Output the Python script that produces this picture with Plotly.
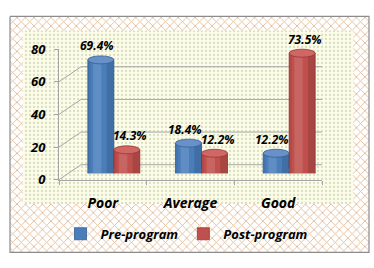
import plotly.graph_objects as go

# ---------------- data ----------------
categories = ["Poor", "Average", "Good"]
series_names = ["Pre-program", "Post-program"]
pre_values = [69.4, 18.4, 12.2]
post_values = [14.3, 12.2, 73.5]
y_ticks = [0, 20, 40, 60, 80]

# ---------------- style / geometry ----------------
W, H = 374, 268
FONT = "Open Sans"
BLUE, BLUE_TOP, BLUE_EDGE = "#4a7ebb", "#6891c9", "#335f96"
RED, RED_TOP, RED_EDGE = "#c0504d", "#cf6764", "#963633"
GRID = "#a6a6a6"

front_x = (59, 322)      # px, front plane (category axis)
front_y0, front_y80 = 183, 43
depth_dx, depth_dy = 22, 15   # back wall offset (px right, px up)
mid_dx, mid_dy = 11, 7        # bars at mid depth
front_w = front_x[1] - front_x[0]
ell = 4                       # half height of cylinder ellipses (px)

def px_dom_x(a, b):
    return [a / W, b / W]

def px_dom_y(bottom, top):
    return [1 - bottom / H, 1 - top / H]

fig = go.Figure()

# ----- background (pixel subplot xy) -----
box = (10, 8, 369, 261)
inner = (23, 23, 353, 209)
fig.add_trace(go.Scatter(
    x=[box[0], box[2], box[2], box[0], box[0]],
    y=[box[1], box[1], box[3], box[3], box[1]],
    mode="lines", fill="toself", fillcolor="white",
    fillpattern=dict(shape="x", fgcolor="#c47a35", bgcolor="#ffffff", size=6, solidity=0.28),
    line=dict(color="#8c8c8c", width=1.2), showlegend=False, hoverinfo="skip",
    xaxis="x", yaxis="y"))
fig.add_trace(go.Scatter(
    x=[inner[0], inner[2], inner[2], inner[0], inner[0]],
    y=[inner[1], inner[1], inner[3], inner[3], inner[1]],
    mode="lines", fill="toself", fillcolor="#fcfce9",
    fillpattern=dict(shape=".", fgcolor="#b3c495", bgcolor="#fcfce9", size=4, solidity=0.25),
    line=dict(width=0), showlegend=False, hoverinfo="skip",
    xaxis="x", yaxis="y"))

# ----- bars (mid-depth subplot x4y4) -----
n = len(categories)
bargap = 0.407
bw = (1 - bargap) / 2
xs = list(range(n))
fig.add_trace(go.Bar(x=xs, y=pre_values, name=series_names[0], marker=dict(color=BLUE, line=dict(color=BLUE_EDGE, width=0.8)),
                     xaxis="x4", yaxis="y4", width=bw, offset=-bw))
fig.add_trace(go.Bar(x=xs, y=post_values, name=series_names[1], marker=dict(color=RED, line=dict(color=RED_EDGE, width=0.8)),
                     xaxis="x4", yaxis="y4", width=bw, offset=0))

shapes = []
annotations = []
for vals, off, body, top, edge, xsh in [
        (pre_values, -bw / 2, BLUE, BLUE_TOP, BLUE_EDGE, -4),
        (post_values, bw / 2, RED, RED_TOP, RED_EDGE, 3)]:
    for i, v in enumerate(vals):
        c = i + off
        # rounded bottom
        shapes.append(dict(type="circle", xref="x4", yref="y4", x0=c - bw / 2, x1=c + bw / 2,
                           ysizemode="pixel", yanchor=0, y0=-ell, y1=ell,
                           fillcolor=body, line=dict(color=edge, width=0.8), layer="above"))
        shapes.append(dict(type="rect", xref="x4", yref="y4", x0=c - bw / 2 + 0.004, x1=c + bw / 2 - 0.004,
                           ysizemode="pixel", yanchor=0, y0=0, y1=ell + 1,
                           fillcolor=body, line=dict(width=0), layer="above"))
        # cylinder shading
        shapes.append(dict(type="rect", xref="x4", yref="y4", x0=c - bw * 0.30, x1=c + bw * 0.02,
                           y0=0, y1=v, fillcolor="rgba(255,255,255,0.12)", line=dict(width=0), layer="above"))
        shapes.append(dict(type="rect", xref="x4", yref="y4", x0=c + bw * 0.22, x1=c + bw * 0.5,
                           y0=0, y1=v, fillcolor="rgba(0,0,0,0.12)", line=dict(width=0), layer="above"))
        shapes.append(dict(type="rect", xref="x4", yref="y4", x0=c - bw * 0.5, x1=c - bw * 0.40,
                           y0=0, y1=v, fillcolor="rgba(0,0,0,0.08)", line=dict(width=0), layer="above"))
        # top ellipse
        shapes.append(dict(type="circle", xref="x4", yref="y4", x0=c - bw / 2, x1=c + bw / 2,
                           ysizemode="pixel", yanchor=v, y0=-ell, y1=ell,
                           fillcolor=top, line=dict(color=edge, width=0.8), layer="above"))
        annotations.append(dict(xref="x4", yref="y4", x=c, y=v, text=f"{v:.1f}%", showarrow=False,
                                yshift=14, xshift=xsh,
                                font=dict(family=FONT, size=12, color="black", weight="bold", style="italic")))

# ----- walls: left-wall diagonals, back-wall gridlines, floor right edge -----
for v in y_ticks:
    shapes.append(dict(type="line", xref="x3", yref="y3", xsizemode="pixel", xanchor=-0.5, x0=0, x1=depth_dx,
                       ysizemode="pixel", yanchor=v, y0=0, y1=depth_dy, line=dict(color=GRID, width=1), layer="below"))
    shapes.append(dict(type="line", xref="x3", yref="y3", xsizemode="pixel", xanchor=-0.5,
                       x0=depth_dx, x1=depth_dx + front_w,
                       ysizemode="pixel", yanchor=v, y0=depth_dy, y1=depth_dy,
                       line=dict(color=GRID, width=1), layer="below"))
shapes.append(dict(type="line", xref="x3", yref="y3", xsizemode="pixel", xanchor=n - 0.5, x0=0, x1=depth_dx,
                   ysizemode="pixel", yanchor=0, y0=0, y1=depth_dy, line=dict(color=GRID, width=1), layer="below"))

axis_font = dict(family=FONT, size=14, color="black", weight="bold", style="italic")
legend_font = dict(family=FONT, size=13, color="black", weight="bold", style="italic")
tick_font = dict(family=FONT, size=13, color="black", weight="bold", style="italic")

fig.update_layout(
    width=W, height=H, autosize=False,
    margin=dict(l=0, r=0, t=0, b=0, pad=0),
    paper_bgcolor="white", plot_bgcolor="rgba(0,0,0,0)",
    barmode="group", bargap=bargap,
    showlegend=True,
    legend=dict(orientation="h", x=0.5, xanchor="center", y=1 - 241 / H, yanchor="middle",
                font=legend_font, bgcolor="rgba(0,0,0,0)", itemwidth=30, traceorder="normal"),
    shapes=shapes, annotations=annotations,
    xaxis=dict(domain=[0, 1], range=[0, W], visible=False, fixedrange=True),
    yaxis=dict(domain=[0, 1], range=[H, 0], visible=False, fixedrange=True),
    xaxis3=dict(domain=px_dom_x(*front_x), range=[-0.5, n - 0.5], anchor="y3",
                tickvals=xs, ticktext=categories, ticks="", showgrid=False, zeroline=False,
                showline=True, linecolor=GRID, linewidth=1, tickfont=axis_font, ticklabelstandoff=10,
                minor=dict(tickvals=[i - 0.5 for i in range(n + 1)], ticks="outside", ticklen=4,
                           tickcolor=GRID, showgrid=False)),
    yaxis3=dict(domain=px_dom_y(front_y0, front_y80), range=[0, 80], anchor="x3",
                tickvals=y_ticks, ticks="outside", ticklen=4, tickcolor=GRID, showgrid=False, zeroline=False,
                showline=True, linecolor=GRID, linewidth=1, tickfont=tick_font, ticklabelstandoff=6),
    xaxis4=dict(domain=px_dom_x(front_x[0] + mid_dx, front_x[1] + mid_dx), range=[-0.5, n - 0.5], anchor="y4",
                visible=False),
    yaxis4=dict(domain=px_dom_y(front_y0 - mid_dy, front_y80 - mid_dy), range=[0, 80], anchor="x4",
                visible=False),
)

fig.write_html("out.html")
